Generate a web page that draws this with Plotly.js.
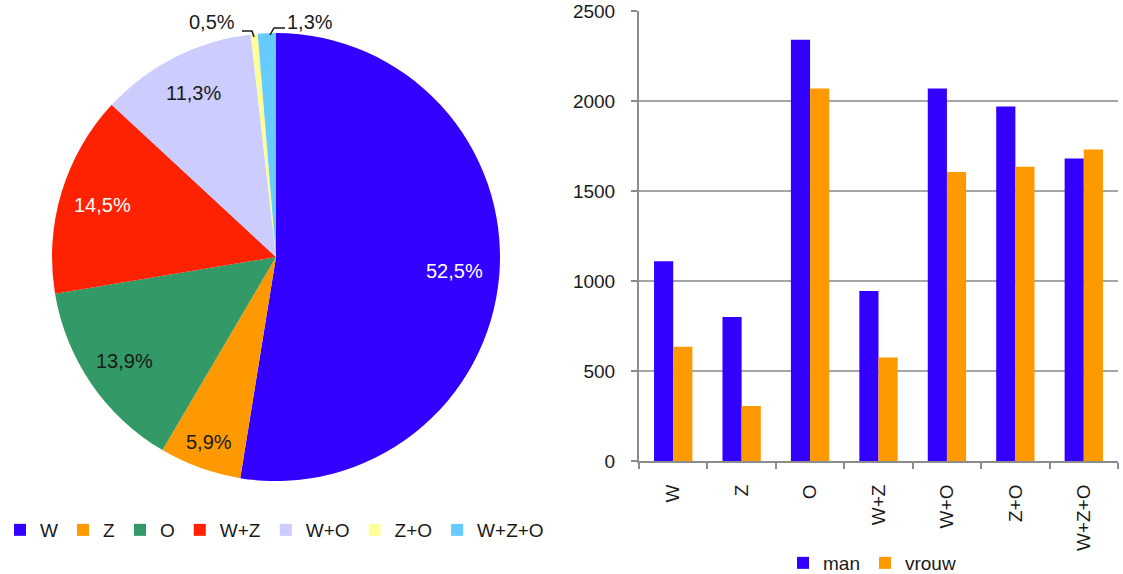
<!DOCTYPE html>
<html>
<head>
<meta charset="utf-8">
<script src="https://cdn.plot.ly/plotly-3.0.1.min.js"></script>
<style>html,body{margin:0;padding:0;background:#fff;overflow:hidden;}#chart{width:1123px;height:594px;}</style>
</head>
<body>
<div id="chart"></div>
<script>
// ---- data ----
var pieLabels = ['W', 'Z', 'O', 'W+Z', 'W+O', 'Z+O', 'W+Z+O'];
var pieShares = [52.5, 5.9, 13.9, 14.5, 11.3, 0.5, 1.3];
var barCategories = ['W', 'Z', 'O', 'W+Z', 'W+O', 'Z+O', 'W+Z+O'];
var manValues = [1110, 800, 2340, 945, 2070, 1970, 1680];
var vrouwValues = [635, 305, 2070, 575, 1605, 1635, 1730];
var yTickValues = [0, 500, 1000, 1500, 2000, 2500];

// ---- styles / layout helpers ----
// The figure is drawn slightly taller than the 574px window so the bottom legend
// never overflows the paper (which would make Plotly push the margins).
var W = 1123, H = 594;
var pieColors = ['#3300FF', '#FF9900', '#339966', '#FF2200', '#CCCCFF', '#FFFF99', '#66CCFF'];
var labelColors = ['#ffffff', '#1a1a1a', '#1a1a1a', '#ffffff', '#1a1a1a', null, null];
var labelRadius = [0.80, 0.88, 0.82, 0.81, 0.82, null, null];
var FONT = 'Liberation Sans, Arial, sans-serif';
function px(x) { return x / W; }
function py(y) { return 1 - y / H; }

var pieCx = 276, pieCy = 257, pieR = 224;

function fmt(v) { return v.toFixed(1).replace('.', ',') + '%'; }

var pieTrace = {
  type: 'pie',
  labels: pieLabels,
  values: pieShares,
  sort: false,
  direction: 'clockwise',
  rotation: 0,
  marker: { colors: pieColors, line: { width: 0 } },
  textinfo: 'none',
  hoverinfo: 'label+percent',
  domain: { x: [px(pieCx - pieR), px(pieCx + pieR)], y: [py(pieCy + pieR), py(pieCy - pieR)] },
  legend: 'legend',
  showlegend: true
};

var manTrace = {
  type: 'bar', name: 'man', x: barCategories, y: manValues,
  marker: { color: '#3300FF', line: { width: 0 } },
  xaxis: 'x', yaxis: 'y', legend: 'legend2'
};
var vrouwTrace = {
  type: 'bar', name: 'vrouw', x: barCategories, y: vrouwValues,
  marker: { color: '#FF9900', line: { width: 0 } },
  xaxis: 'x', yaxis: 'y', legend: 'legend2'
};

// pie percentage labels computed from the data
var annotations = [];
var total = pieShares.reduce(function (a, b) { return a + b; }, 0);
var cum = 0;
for (var i = 0; i < pieShares.length; i++) {
  var mid = (cum + pieShares[i] / 2) / total;
  cum += pieShares[i];
  if (labelRadius[i] === null) continue;
  var ang = mid * 2 * Math.PI;
  var r = labelRadius[i] * pieR;
  annotations.push({
    xref: 'paper', yref: 'paper',
    x: px(pieCx + r * Math.sin(ang)), y: py(pieCy - r * Math.cos(ang)),
    text: fmt(pieShares[i]), showarrow: false,
    xanchor: 'center', yanchor: 'middle',
    font: { family: FONT, size: 20, color: labelColors[i] }
  });
}
// small slices: labels outside with leader lines
annotations.push({ xref: 'paper', yref: 'paper', x: px(212), y: py(22), text: fmt(pieShares[5]),
  showarrow: false, xanchor: 'center', yanchor: 'middle', font: { family: FONT, size: 20, color: '#1a1a1a' } });
annotations.push({ xref: 'paper', yref: 'paper', x: px(310), y: py(22), text: fmt(pieShares[6]),
  showarrow: false, xanchor: 'center', yanchor: 'middle', font: { family: FONT, size: 20, color: '#1a1a1a' } });

var shapes = [
  { type: 'path', xref: 'paper', yref: 'paper',
    path: 'M' + px(242) + ',' + py(31) + ' L' + px(252) + ',' + py(31) + ' L' + px(254) + ',' + py(37),
    line: { color: '#1a1a1a', width: 1.5 } },
  { type: 'path', xref: 'paper', yref: 'paper',
    path: 'M' + px(285) + ',' + py(28) + ' L' + px(274) + ',' + py(28) + ' L' + px(270) + ',' + py(35),
    line: { color: '#1a1a1a', width: 1.5 } }
];

var layout = {
  width: W, height: H,
  margin: { l: 0, r: 0, t: 0, b: 0, pad: 0 },
  paper_bgcolor: '#ffffff', plot_bgcolor: '#ffffff',
  font: { family: FONT, size: 19, color: '#1a1a1a' },
  barmode: 'group', bargap: 0.44, bargroupgap: 0,
  xaxis: {
    domain: [px(639), px(1118)],
    type: 'category',
    showline: true, linecolor: '#8c8c8c', linewidth: 2,
    ticks: 'outside', tickson: 'boundaries', ticklen: 6, tickcolor: '#8c8c8c', tickwidth: 2,
    tickangle: -90, ticklabelstandoff: 14,
    tickfont: { family: FONT, size: 19, color: '#1a1a1a' },
    showgrid: false, zeroline: false, fixedrange: true
  },
  yaxis: {
    domain: [py(461), py(11)],
    range: [0, 2500], tickvals: yTickValues,
    showline: true, linecolor: '#8c8c8c', linewidth: 2,
    ticks: 'outside', ticklen: 6, tickcolor: '#8c8c8c', tickwidth: 2,
    ticklabelstandoff: 12,
    tickfont: { family: FONT, size: 19, color: '#1a1a1a' },
    showgrid: true, gridcolor: '#a6a6a6', gridwidth: 2,
    zeroline: false, fixedrange: true
  },
  legend: {
    orientation: 'h', x: 0, y: py(530), xanchor: 'left', yanchor: 'middle',
    font: { family: FONT, size: 19, color: '#1a1a1a' },
    bgcolor: 'rgba(0,0,0,0)', borderwidth: 0, itemclick: false, itemdoubleclick: false,
    tracegroupgap: 0
  },
  legend2: {
    orientation: 'h', x: px(783), y: py(563), xanchor: 'left', yanchor: 'middle',
    font: { family: FONT, size: 19, color: '#1a1a1a' },
    bgcolor: 'rgba(0,0,0,0)', borderwidth: 0, itemclick: false, itemdoubleclick: false
  },
  annotations: annotations,
  shapes: shapes,
  showlegend: true
};

Plotly.newPlot('chart', [pieTrace, manTrace, vrouwTrace], layout, { displayModeBar: false, staticPlot: true });
</script>
</body>
</html>
